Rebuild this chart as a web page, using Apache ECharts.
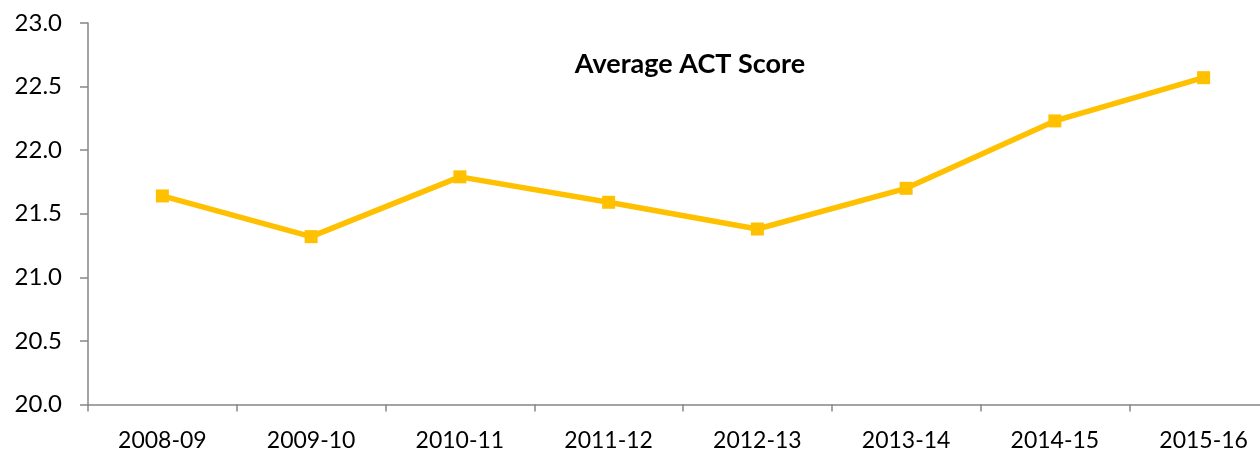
<!DOCTYPE html>
<html>
<head>
<meta charset="utf-8">
<script src="https://cdn.jsdelivr.net/npm/echarts@6/dist/echarts.min.js"></script>
<style>
  html, body { margin: 0; padding: 0; background: #fff; overflow: hidden; }
  /* the plot runs a little past the right edge of the picture, so the canvas is wider than the window */
  #chart { width: 1280px; height: 453px; }
</style>
</head>
<body>
<div id="chart"></div>
<script>
// school years on the x axis
var years = ['2008-09', '2009-10', '2010-11', '2011-12', '2012-13', '2013-14', '2014-15', '2015-16']
// average ACT score per year
var actScore = [21.64, 21.32, 21.79, 21.59, 21.38, 21.70, 22.23, 22.57]
// value axis range
var yMin = 20
var yMax = 23
var yStep = 0.5

var axisColor = '#868686'
var lineColor = '#FFC000'
var font = 'Lato, "Liberation Sans", sans-serif'

var myChart = echarts.init(document.getElementById('chart'))
var option = {
  animation: false,
  title: {
    text: 'Average ACT Score',
    left: 685,
    top: 46,
    textAlign: 'center',
    textStyle: { fontFamily: font, fontSize: 27, fontWeight: 'bold', color: '#000' }
  },
  grid: {
    left: 88,
    right: 2,
    top: 23,
    bottom: 48.5,
    containLabel: false
  },
  xAxis: {
    type: 'category',
    data: years,
    boundaryGap: true,
    axisLine: { lineStyle: { color: axisColor, width: 1.5 } },
    axisTick: { show: true, length: 7, lineStyle: { color: axisColor, width: 1.5 } },
    axisLabel: { margin: 25, fontFamily: font, fontSize: 23, color: '#000', interval: 0 },
    splitLine: { show: false }
  },
  yAxis: {
    type: 'value',
    min: yMin,
    max: yMax,
    interval: yStep,
    axisLine: { show: true, lineStyle: { color: axisColor, width: 1.5 } },
    axisTick: { show: true, length: 8, lineStyle: { color: axisColor, width: 1.5 } },
    axisLabel: {
      margin: 26,
      fontFamily: font,
      fontSize: 24,
      color: '#000',
      formatter: function (v) { return v.toFixed(1) }
    },
    splitLine: { show: false }
  },
  series: [
    {
      name: 'Average ACT Score',
      type: 'line',
      data: actScore,
      symbol: 'rect',
      symbolSize: 13,
      lineStyle: { color: lineColor, width: 5.5 },
      itemStyle: { color: lineColor }
    }
  ]
}
myChart.setOption(option)
</script>
</body>
</html>
